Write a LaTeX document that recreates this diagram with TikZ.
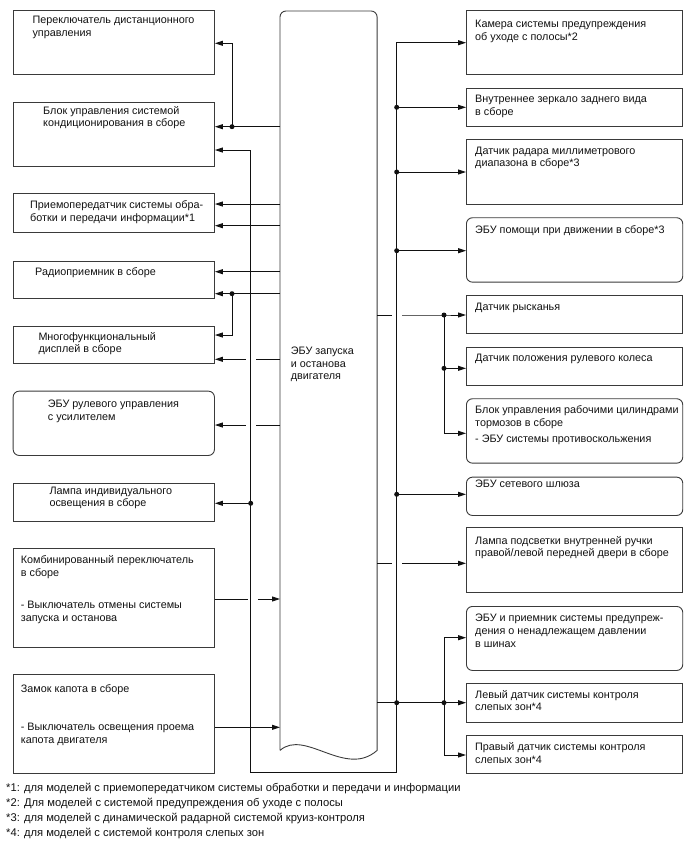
\documentclass[tikz,border=0pt]{standalone}
\usepackage{fontspec}
\setmainfont{Liberation Sans}
\usetikzlibrary{arrows.meta,positioning}
\definecolor{ink}{HTML}{111111}
\definecolor{edge}{HTML}{3A3A3A}

\begin{document}
\begin{tikzpicture}[x=1pt, y=-1pt,
  every node/.style={font=\fontsize{10.8pt}{12.8pt}\selectfont, text=ink},
  blk/.style={rectangle, draw=edge, line width=0.9pt, inner sep=0pt, anchor=north west},
  lbox/.style={blk, minimum width=201.3pt},
  rbox/.style={blk, minimum width=216.3pt},
  round/.style={rounded corners=6pt},
  txt/.style={align=left, inner sep=0pt, anchor=north west},
  wire/.style={draw=ink, line width=0.9pt},
  arr/.style={wire, -{Triangle[length=8pt,width=5pt]}},
  dot/.style={circle, fill=ink, inner sep=0pt, minimum size=5pt}
]
\useasboundingbox (0,0) rectangle (688,852);

% engine stop and start ECU
\node[inner sep=0pt, minimum width=96.7pt, minimum height=739pt, anchor=north west] (ecu) at (280,11) {};
\draw[wire, draw=edge] (ecu.south west) [rounded corners=6pt] -- (ecu.north west) -- (ecu.north east) [sharp corners] -- (ecu.south east)
  .. controls +(-31.7,28) and +(25,-22) .. (ecu.south west);
\node[txt] (ecutxt) at (290.7,346.5) {ЭБУ запуска\\и останова\\двигателя};

% left column
\node[lbox, minimum height=64pt] (b1) at (12.7,10) {};
\node[lbox, minimum height=64pt] (b2) at (12.7,102) {};
\node[lbox, minimum height=39pt] (b3) at (12.7,193) {};
\node[lbox, minimum height=37.3pt] (b4) at (12.7,260.7) {};
\node[lbox, minimum height=37.3pt] (b5) at (12.7,326) {};
\node[lbox, round, minimum height=64.3pt] (b6) at (12.7,390.7) {};
\node[lbox, minimum height=38pt] (b7) at (12.7,482.7) {};
\node[lbox, minimum height=99pt] (b8) at (12.7,547.7) {};
\node[lbox, minimum height=99pt] (b9) at (12.7,674.3) {};

\node[txt, below right=5.8pt and 19.6pt of b1.north west] (t1) {Переключатель дистанционного\\управления};
\node[txt, below right=3.8pt and 30.3pt of b2.north west] (t2) {Блок управления системой\\кондиционирования в сборе};
\node[txt, below right=7.8pt and 17.3pt of b3.north west] (t3) {Приемопередатчик системы обра-\\ботки и передачи информации*1};
\node[txt, below right=6.8pt and 22.3pt of b4.north west] (t4) {Радиоприемник в сборе};
\node[txt, below right=5.8pt and 25.6pt of b5.north west] (t5) {Многофункциональный\\дисплей в сборе};
\node[txt, below right=9pt and 35pt of b6.north west] (t6) {ЭБУ рулевого управления\\с усилителем};
\node[txt, below right=3.8pt and 36.6pt of b7.north west] (t7) {Лампа индивидуального\\освещения в сборе};
\node[txt, below right=8pt and 8pt of b8.north west] (t8) {Комбинированный переключатель\\в сборе\\[19pt]- Выключатель отмены системы\\запуска и останова};
\node[txt, below right=9.8pt and 8pt of b9.north west] (t9) {Замок капота в сборе\\[25.6pt]- Выключатель освещения проема\\капота двигателя};

% right column
\node[rbox, minimum height=64pt] (r1) at (466,10) {};
\node[rbox, minimum height=37.7pt] (r2) at (466,88.3) {};
\node[rbox, minimum height=64.7pt] (r3) at (466,139.3) {};
\node[rbox, round, minimum height=64.4pt] (r4) at (466,217.3) {};
\node[rbox, minimum height=38.3pt] (r5) at (466,295) {};
\node[rbox, minimum height=38.3pt] (r6) at (466,346.7) {};
\node[rbox, round, minimum height=64.4pt] (r7) at (466,398.3) {};
\node[rbox, round, minimum height=38.3pt] (r8) at (466,476.7) {};
\node[rbox, minimum height=65pt] (r9) at (466,526.7) {};
\node[rbox, round, minimum height=64pt] (r10) at (466,606) {};
\node[rbox, minimum height=38.4pt] (r11) at (466,683.3) {};
\node[rbox, minimum height=38.3pt] (r12) at (466,735) {};

\node[txt, below right=9.8pt and 9pt of r1.north west] (s1) {Камера системы предупреждения\\об уходе с полосы*2};
\node[txt, below right=6.8pt and 9pt of r2.north west] (s2) {Внутреннее зеркало заднего вида\\в сборе};
\node[txt, below right=7.2pt and 9pt of r3.north west] (s3) {Датчик радара миллиметрового\\диапазона в сборе*3};
\node[txt, below right=8.5pt and 9pt of r4.north west] (s4) {ЭБУ помощи при движении в сборе*3};
\node[txt, below right=7.5pt and 9pt of r5.north west] (s5) {Датчик рысканья};
\node[txt, below right=7.4pt and 9pt of r6.north west] (s6) {Датчик положения рулевого колеса};
\node[txt, below right=7.5pt and 9pt of r7.north west] (s7) {Блок управления рабочими цилиндрами\\тормозов в сборе\\[2.5pt]- ЭБУ системы противоскольжения};
\node[txt, below right=3.1pt and 9pt of r8.north west] (s8) {ЭБУ сетевого шлюза};
\node[txt, below right=9.1pt and 9pt of r9.north west] (s9) {Лампа подсветки внутренней ручки\\правой/левой передней двери в сборе};
\node[txt, below right=8.1pt and 9pt of r10.north west] (s10) {ЭБУ и приемник системы предупреж-\\дения о ненадлежащем давлении\\в шинах};
\node[txt, below right=6.5pt and 9pt of r11.north west] (s11) {Левый датчик системы контроля\\слепых зон*4};
\node[txt, below right=7.5pt and 9pt of r12.north west] (s12) {Правый датчик системы контроля\\слепых зон*4};

% bus frame round the ECU
\coordinate (lbus) at (250.7,150);
\coordinate (lcorner) at (250.7,772.7);
\coordinate (rcorner) at (396.7,772.7);
\coordinate (rbus) at (396.7,42.7);
\draw[wire, {Triangle[length=8pt,width=5pt]}-{Triangle[length=8pt,width=5pt]}]
  (b2.east |- lbus) -- (lbus) -- (lcorner) -- (rcorner) -- (rbus) -- (r1.west |- rbus);

% junctions
\node[dot] (dA) at (232,126.7) {};
\node[dot] (dB) at (232,293.7) {};
\node[dot] (dC) at (250.7,503.3) {};
\node[dot] (dD) at (396.7,107.3) {};
\node[dot] (dE) at (396.7,172) {};
\node[dot] (dF) at (396.7,250.7) {};
\node[dot] (dG) at (444,315) {};
\node[dot] (dH) at (444,368.3) {};
\node[dot] (dI) at (396.7,494.3) {};
\node[dot] (dJ) at (396.7,702.7) {};
\node[dot] (dK) at (444,702.7) {};

% left side wires
\draw[arr] (ecu.west |- dA) -- (dA.center) -- (b2.east |- dA);
\draw[arr] (dA.center) -- (dA |- 0,43.3) -- (b1.east |- 0,43.3);
\draw[arr] (ecu.west |- 0,204) -- (b3.east |- 0,204);
\draw[arr] (ecu.west |- 0,225.7) -- (b3.east |- 0,225.7);
\draw[arr] (ecu.west |- 0,271.7) -- (b4.east |- 0,271.7);
\draw[arr] (ecu.west |- dB) -- (dB.center) -- (b4.east |- dB);
\draw[arr] (dB.center) -- (dB |- 0,335) -- (b5.east |- 0,335);
\draw[arr] (ecu.west |- 0,359.3) -- ++(-24.3,0) ++(-10,0) -- (b5.east |- 0,359.3);
\draw[arr] (ecu.west |- 0,425) -- ++(-24.3,0) ++(-10,0) -- (b6.east |- 0,425);
\draw[arr] (dC.center) -- (b7.east |- dC);
\draw[arr] (b8.east |- 0,599) -- ++(33,0) ++(10,0) -- (ecu.west |- 0,599);
\draw[arr] (b9.east |- 0,727.3) -- (ecu.west |- 0,727.3);

% right side wires
\draw[arr] (dD.center) -- (r2.west |- dD);
\draw[arr] (dE.center) -- (r3.west |- dE);
\draw[arr] (dF.center) -- (r4.west |- dF);
\draw[arr] (ecu.east |- dG) -- ++(15,0) ++(10,0) -- (dG.center) -- (r5.west |- dG);
\draw[arr] (dG.center) -- (dH.center) -- (r6.west |- dH);
\draw[arr] (dH.center) -- (dH |- 0,433.3) -- (r7.west |- 0,433.3);
\draw[arr] (dI.center) -- (r8.west |- dI);
\draw[arr] (ecu.east |- 0,563.3) -- ++(15,0) ++(10,0) -- (r9.west |- 0,563.3);
\draw[arr] (ecu.east |- dJ) -- (dJ.center) -- (dK.center) -- (r11.west |- dK);
\draw[arr] (dK.center) -- (dK |- 0,637.7) -- (r10.west |- 0,637.7);
\draw[arr] (dK.center) -- (dK |- 0,755) -- (r12.west |- 0,755);

% footnotes
\node[txt, font=\fontsize{11.2pt}{15pt}\selectfont] (notes) at (6,783) {*1: для моделей с приемопередатчиком системы обработки и передачи и информации\\*2: Для моделей с системой предупреждения об уходе с полосы\\*3: для моделей с динамической радарной системой круиз-контроля\\*4: для моделей с системой контроля слепых зон};
\end{tikzpicture}
\end{document}
